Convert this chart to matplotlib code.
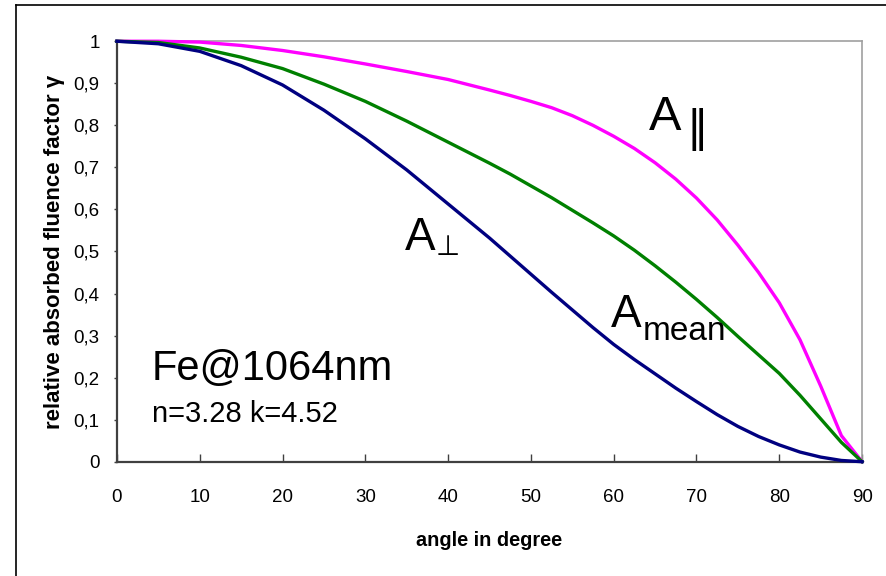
import matplotlib
matplotlib.use("Agg")
import matplotlib.pyplot as plt
from matplotlib.lines import Line2D
from matplotlib.ticker import FuncFormatter, MultipleLocator

# angle of incidence in degree
angle = [0, 5, 10, 15, 20, 25, 30, 35, 40, 45, 47.5, 50, 52.5, 55, 57.5,
         60, 62.5, 65, 67.5, 70, 72.5, 75, 77.5, 80, 82.5, 85, 87.5, 90]
# relative absorbed fluence
a_par = [1.0, 1.0, 0.998, 0.99, 0.978, 0.963, 0.946, 0.928, 0.909, 0.884,
         0.871, 0.857, 0.842, 0.823, 0.8, 0.774, 0.745, 0.711, 0.672, 0.627,
         0.575, 0.515, 0.45, 0.378, 0.29, 0.18, 0.062, 0.0]
a_mean = [1.0, 0.997, 0.984, 0.962, 0.935, 0.898, 0.857, 0.81, 0.76, 0.71,
          0.684, 0.656, 0.628, 0.598, 0.568, 0.537, 0.503, 0.466, 0.427,
          0.386, 0.343, 0.298, 0.254, 0.21, 0.158, 0.102, 0.046, 0.0]
a_perp = [1.0, 0.994, 0.976, 0.942, 0.896, 0.836, 0.768, 0.694, 0.613,
          0.532, 0.489, 0.446, 0.403, 0.361, 0.319, 0.279, 0.243, 0.209,
          0.175, 0.143, 0.112, 0.084, 0.06, 0.04, 0.023, 0.011, 0.003, 0.0]

FONT = ["Liberation Sans", "DejaVu Sans"]
plt.rcParams["font.family"] = FONT

fig = plt.figure(figsize=(8.86, 5.76), dpi=100)
ax = fig.add_axes([0.132, 0.1984, 0.841, 0.73])

ax.plot(angle, a_par, color="#ff00ff", lw=2.4, clip_on=False, zorder=3)
ax.plot(angle, a_mean, color="#008000", lw=2.4, clip_on=False, zorder=3)
ax.plot(angle, a_perp, color="#000080", lw=2.4, clip_on=False, zorder=3)

ax.set_xlim(0, 90)
ax.set_ylim(0, 1)
ax.xaxis.set_major_locator(MultipleLocator(10))
ax.yaxis.set_major_locator(MultipleLocator(0.1))
ax.yaxis.set_major_formatter(
    FuncFormatter(lambda v, p: ("%g" % round(v, 1)).replace(".", ",")))

for side in ("left", "bottom"):
    ax.spines[side].set_color("#404040")
    ax.spines[side].set_linewidth(1.6)
for side in ("top", "right"):
    ax.spines[side].set_color("#a0a0a0")
    ax.spines[side].set_linewidth(1.2)

ax.tick_params(axis="x", direction="in", length=5.5, width=1, color="#404040",
               pad=20, labelsize=13.5)
ax.tick_params(axis="y", direction="out", length=2.5, width=1, color="#404040",
               pad=10, labelsize=13.5)

ax.set_xlabel("angle in degree", fontsize=14.3, fontweight="bold", labelpad=18)
ax.set_ylabel("relative absorbed fluence factor γ", fontsize=16,
              fontweight="bold", labelpad=6)

# curve labels
ax.text(64.2, 0.789, "A", fontsize=35, va="baseline")
ax.text(68.8, 0.762, "\u2016", fontsize=31, va="baseline", family="DejaVu Sans")
ax.text(34.8, 0.5036, "A", fontsize=33, va="baseline")
ax.text(38.5, 0.4917, "\u22a5", fontsize=20, va="baseline", family=FONT)
ax.text(59.7, 0.321, "A", fontsize=33, va="baseline")
ax.text(63.55, 0.2895, "mean", fontsize=24, va="baseline")

ax.text(4.2, 0.194, "Fe@1064nm", fontsize=30, va="baseline")
ax.text(4.2, 0.095, "n=3.28 k=4.52", fontsize=21, va="baseline")

# outer frame of the original picture (only top and left edge visible)
fig.add_artist(Line2D([0.018, 0.018], [0, 0.992], color="black", lw=1.2))
fig.add_artist(Line2D([0.018, 1], [0.992, 0.992], color="black", lw=1.2))

fig.savefig("out.png", dpi=100)
